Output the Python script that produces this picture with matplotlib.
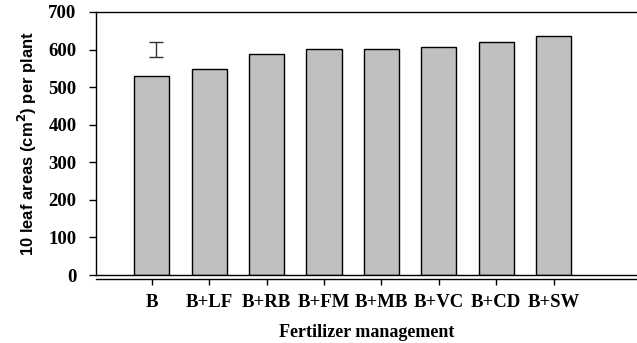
import matplotlib
matplotlib.use("Agg")
import matplotlib.pyplot as plt
import numpy as np

categories = ["B", "B+LF", "B+RB", "B+FM", "B+MB", "B+VC", "B+CD", "B+SW"]
leaf_area = [530, 547, 587, 601, 602, 608, 621, 637]
lsd_center = 600
lsd_half = 19.5
y_ticks = [0, 100, 200, 300, 400, 500, 600, 700]

fig = plt.figure(figsize=(6.37, 3.43), dpi=100)
ax = fig.add_axes([96/637, 1-275/343, 1-96/637, 263/343])

ax.spines["right"].set_visible(False)
ax.spines["bottom"].set_position(("outward", 3))
for s in ["left", "top", "bottom"]:
    ax.spines[s].set_linewidth(1.0)

x = np.arange(len(categories))
ax.bar(x, leaf_area, width=0.61, color="#c0c0c0", edgecolor="black", linewidth=1.0, zorder=2)
ax.errorbar([0.08], [lsd_center], yerr=[lsd_half], fmt="none", ecolor="#333333",
            elinewidth=1.0, capsize=5, capthick=1.0, zorder=3)

ax.axhline(0, color="black", linewidth=1.0, zorder=4, clip_on=False)

ax.set_xlim(-0.97, 8.45)
ax.set_ylim(0, 700)
serif = "Liberation Serif"
tick_font = {"family": serif, "weight": "bold", "size": 13.5}
ax.set_yticks(y_ticks)
ax.set_yticklabels([str(v) for v in y_ticks], fontdict=tick_font)
ax.set_xticks(x)
ax.set_xticklabels(categories, fontdict=tick_font)

ax.tick_params(axis="y", direction="out", length=5, width=1.0, pad=9)
ax.tick_params(axis="x", direction="out", length=4, width=1.0, pad=7)

ax.set_ylabel("10 leaf areas (cm$^\\mathbf{2}$) per plant", fontfamily="Liberation Sans",
              fontweight="bold", fontsize=12, labelpad=7)
ax.set_xlabel("Fertilizer management", fontfamily=serif, fontweight="bold", fontsize=13, labelpad=9)

fig.savefig("out.png", dpi=100)
